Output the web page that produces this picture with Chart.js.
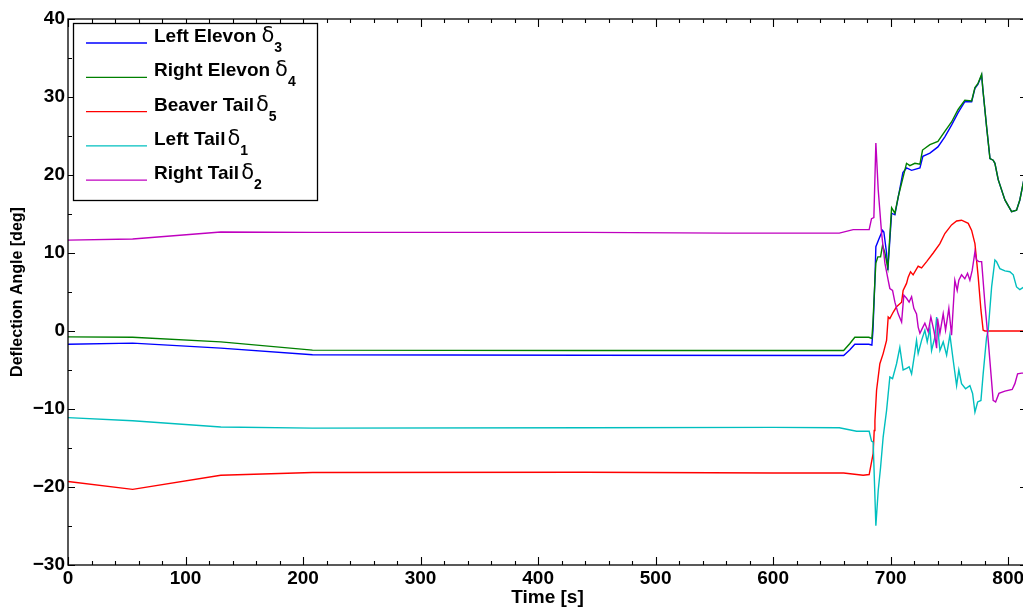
<!DOCTYPE html>
<html><head><meta charset="utf-8">
<script src="https://cdn.jsdelivr.net/npm/chart.js@4/dist/chart.umd.min.js"></script>
<style>html,body{margin:0;padding:0;background:#fff;overflow:hidden;width:1023px;height:607px}canvas{display:block}</style>
</head><body>
<canvas id="c" width="1040" height="607"></canvas>
<script>
// ---- tick labels ----
const xTickValues = [0,100,200,300,400,500,600,700,800];
const yTickValues = [-30,-20,-10,0,10,20,30,40];

// ---- series (time [s], deflection [deg]) ----
const leftElevonT = [0,55,130,208,440,660,665.3,669.5,681.4,684,684.9,686.6,687.4,690,693.1,694.2,696.5,697.6,700.8,703.6,710.4,713.5,717.8,724.9,727.4,733.4,740.2,746.1,751.8,757.4,763.1,768.9,771.7,774.2,777.4,778.5,781.6,784.5,787.2,788.7,791.5,797.2,802.9,807.1,809.9,812.8,816];
const leftElevonV = [-1.7,-1.55,-2.2,-3.05,-3.1,-3.15,-2.4,-1.7,-1.7,-1.8,0,6.5,10.8,11.8,12.9,12.7,10.0,7.8,15.1,14.9,20.3,20.9,20.6,20.9,22.4,22.8,23.6,24.9,26.4,28.0,29.4,29.4,31.1,31.6,32.8,30.9,26.2,22.1,21.9,21.5,19.4,16.8,15.3,15.5,16.8,19.0,21.5];

const rightElevonT = [0,55,130,208,440,660,665.3,669.5,681.4,684,684.9,686.6,687.4,689.1,691.4,693.1,695.1,697.6,700.8,703.6,706.4,713.5,716.3,720.6,724.9,727.1,733.4,740.2,746.1,751.8,757.4,763.1,768.9,771.7,774.2,777.4,778.5,781.6,784.5,787.2,788.7,791.5,797.2,802.9,807.1,809.9,812.8,816];
const rightElevonV = [-0.75,-0.8,-1.4,-2.45,-2.5,-2.5,-1.6,-0.8,-0.8,-0.95,1,6.5,8.7,9.5,9.5,11.0,10.0,8.1,15.8,15.1,17.2,21.5,21.2,21.5,21.4,23.2,23.9,24.3,25.6,26.8,28.4,29.6,29.5,31.2,31.7,32.9,30.9,26.2,22.1,21.9,21.5,19.4,16.8,15.3,15.5,16.8,19.0,21.5];

const beaverTailT = [0,55,130,208,440,600,660,676.6,681.7,685.1,686,686.6,688,690.8,693.6,696.5,697.9,699.3,702.1,705,709.3,710.6,713.5,714.9,716.9,719.1,723.4,726.3,730.6,736.2,741.9,746.1,751.8,756.1,760.3,766,768.9,771.7,774.5,776.8,778.7,780.2,816];
const beaverTailV = [-19.3,-20.3,-18.5,-18.15,-18.1,-18.2,-18.2,-18.5,-18.4,-15.7,-12.75,-11.5,-7.6,-4.2,-2.9,-1.2,1.8,1.6,2.4,3.1,3.7,5.2,6.1,6.9,7.6,7.2,8.3,8.1,8.9,10.0,11.2,12.5,13.6,14.1,14.2,13.8,12.9,11.2,6.9,2.7,0.1,0,0];

const leftTailT = [0,55,130,208,440,600,656.3,671,681.7,683.7,685.1,687.4,689.4,691.4,693.6,696.5,699.3,701.6,705,707.8,710.6,713.5,715.7,717.8,720.6,722,723.4,726.3,729.1,731.1,733.4,734.8,737.6,739.1,741.9,744.7,747.6,750.4,753.2,756.1,758,760.3,763.7,767.4,769.7,771.7,774,776.8,778.7,781.6,783,785.9,788.7,790.1,792.9,797.2,801.4,804.3,807.1,809.9,812.8,816];
const leftTailV = [-11.1,-11.5,-12.3,-12.45,-12.4,-12.35,-12.4,-12.85,-12.85,-14.1,-14.25,-24.95,-20.45,-17.5,-13.6,-10.2,-5.9,-6.1,-4.2,-2.1,-5.0,-4.8,-4.6,-5.5,-2.7,-1.2,-2.9,-1.2,0.1,-1.4,0.3,-2.5,-0.8,1.8,-2.5,-1.4,-3.1,-0.5,-3.75,-7.0,-5.0,-6.75,-7.4,-7.0,-8.0,-10.4,-9.1,-8.9,-5.5,-0.8,0.1,5.65,9.1,8.9,8.0,7.7,7.6,7.2,5.65,5.3,5.6,5.8];

const rightTailT = [0,55,130,208,440,560,656.3,668.1,681.7,683.7,685.7,687.4,689.4,692.3,695.1,697.9,699.3,701.6,703.6,706.4,709.3,711.2,713.5,715.7,717.8,719.7,722,723.4,724.9,726.8,729.1,731.9,734.2,737,739.1,739.9,741.9,744.7,746.7,749.5,751.8,754.6,756.6,758,760.3,763.1,765.4,767.4,769.4,771.7,773.1,775.1,777.4,780.2,783,787.2,789.3,792.1,797.2,803.4,805.7,808,811.4,816];
const rightTailV = [11.65,11.8,12.7,12.65,12.65,12.55,12.55,13.0,13.0,14.4,14.55,24.1,18.1,12.5,8.7,6.5,5.45,5.2,3.7,2.2,1.15,4.6,4.2,3.7,4.4,2.9,2.2,0.5,-0.3,0.3,1.0,-0.1,1.8,-0.1,-2.2,1.6,-0.3,2.2,0.1,2.9,-0.55,6.5,5.2,6.5,7.2,6.7,7.4,6.5,7.8,10.15,9.1,8.9,8.9,3.5,-1.2,-8.9,-9.1,-8.0,-7.7,-7.5,-6.75,-5.5,-5.4,-5.4];

// ---- legend text parts ----
const seriesNames = ['Left Elevon','Right Elevon','Beaver Tail','Left Tail','Right Tail'];
const seriesSymbol = 'δ';
const seriesSubs = ['3','4','5','1','2'];
const seriesColors = ['#0000ff','#008000','#ff0000','#00bfbf','#bf00bf'];
const seriesT = [leftElevonT,rightElevonT,beaverTailT,leftTailT,rightTailT];
const seriesV = [leftElevonV,rightElevonV,beaverTailV,leftTailV,rightTailV];

const datasets = seriesNames.map((n,i)=>({
  label: n+' '+seriesSymbol+seriesSubs[i],
  data: seriesT[i].map((t,k)=>({x:t,y:seriesV[i][k]})),
  borderColor: seriesColors[i],
  backgroundColor: seriesColors[i],
  borderWidth: 1.4,
  pointRadius: 0,
  tension: 0,
  fill: false,
  order: seriesNames.length - 1 - i
}));

const FONT = '"Liberation Sans", Arial, Helvetica, sans-serif';

const framePlugin = {
  id:'frame',
  afterDatasetsDraw(chart){
    const {ctx, chartArea:a, scales:{x,y}} = chart;
    ctx.save();
    ctx.strokeStyle='#000'; ctx.lineWidth=1.3;
    ctx.strokeRect(a.left, a.top, a.right-a.left, a.bottom-a.top);
    ctx.beginPath();
    ctx.lineWidth=1.1;
    for (let v=0; v<=x.max; v+=20){
      const px=Math.round(x.getPixelForValue(v))+0.5; const L = v%100===0?8:4;
      ctx.moveTo(px,a.bottom); ctx.lineTo(px,a.bottom-L);
      ctx.moveTo(px,a.top); ctx.lineTo(px,a.top+L);
    }
    for (let v=-30; v<=40; v+=5){
      const py=Math.round(y.getPixelForValue(v))+0.5; const L = v%10===0?7:4;
      ctx.moveTo(a.left,py); ctx.lineTo(a.left+L,py);
      ctx.moveTo(a.right,py); ctx.lineTo(a.right-L,py);
    }
    ctx.stroke();
    // legend
    const bx=73, by=23, bw=244, bh=177;
    ctx.fillStyle='#fff'; ctx.fillRect(bx,by,bw,bh);
    ctx.lineWidth=1.3; ctx.strokeStyle='#000'; ctx.strokeRect(bx+0.5,by+0.5,bw,bh);
    seriesNames.forEach((name,i)=>{
      const ds = chart.data.datasets[i];
      const ly = 43 + i*34.3;
      ctx.strokeStyle = ds.borderColor; ctx.lineWidth=1.3;
      ctx.beginPath(); ctx.moveTo(86,ly); ctx.lineTo(147,ly); ctx.stroke();
      ctx.fillStyle='#000';
      ctx.textBaseline='alphabetic'; ctx.textAlign='left';
      ctx.font='bold 19px '+FONT;
      ctx.fillText(name,154,ly-1);
      let xx = 154 + ctx.measureText(name).width + (i<2?5:2);
      ctx.font='21px "DejaVu Sans", sans-serif';
      ctx.fillText(seriesSymbol,xx,ly-1);
      xx += ctx.measureText(seriesSymbol).width;
      ctx.font='bold 14px '+FONT;
      ctx.fillText(seriesSubs[i],xx,ly+9);
    });
    ctx.restore();
  }
};

new Chart(document.getElementById('c'),{
  type:'line',
  data:{datasets},
  plugins:[framePlugin],
  options:{
    responsive:false, animation:false, devicePixelRatio:1,
    layout:{padding:{top:19,right:13,left:0,bottom:0}},
    plugins:{legend:{display:false},tooltip:{enabled:false}},
    scales:{
      x:{type:'linear',min:0,max:816,
        afterBuildTicks:s=>{s.ticks=xTickValues.map(v=>({value:v}));},
        afterFit:s=>{s.height=42;},
        grid:{display:false,drawTicks:false},border:{display:false},
        ticks:{color:'#000',font:{family:FONT,size:19,weight:'bold'},padding:2,maxRotation:0,autoSkip:false},
        title:{display:true,text:'Time [s]',color:'#000',font:{family:FONT,size:19,weight:'bold',lineHeight:1},padding:{top:0,bottom:0}}
      },
      y:{type:'linear',min:-30,max:40,
        afterBuildTicks:s=>{s.ticks=yTickValues.map(v=>({value:v}));},
        afterFit:s=>{s.width=68;},
        grid:{display:false,drawTicks:false},border:{display:false},
        ticks:{color:'#000',font:{family:FONT,size:19,weight:'bold'},padding:3,autoSkip:false,
          callback:v=>String(v).replace('-','\u2212')},
        title:{display:true,text:'Deflection Angle [deg]',color:'#000',font:{family:FONT,size:16,weight:'bold',lineHeight:1},padding:{top:10,bottom:0}}
      }
    }
  }
});
</script></body></html>
